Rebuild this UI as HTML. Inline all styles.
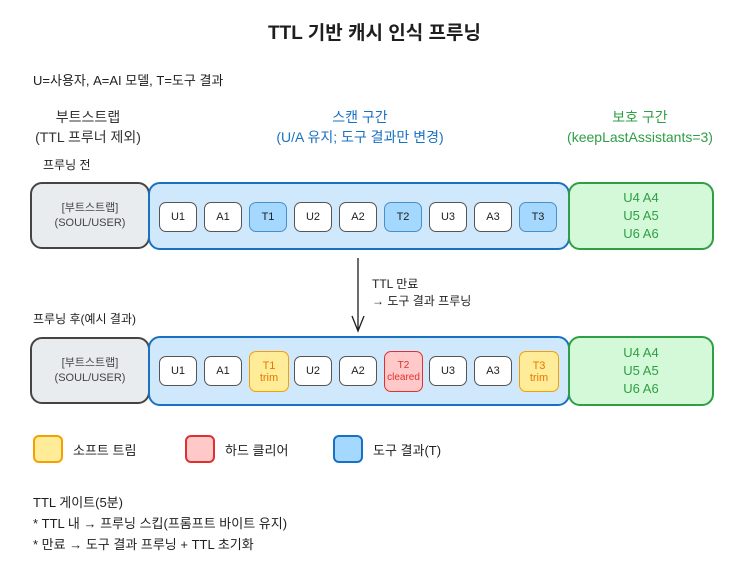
<!DOCTYPE html>
<html><head><meta charset="utf-8"><style>
body{margin:0;width:749px;height:583px;background:#fff;position:relative;overflow:hidden;font-family:"Liberation Sans","Noto Sans CJK KR",sans-serif;color:#1e1e1e}
.t{position:absolute;white-space:nowrap}
.b{position:absolute;box-sizing:border-box;border-radius:12px;border:2px solid}
.s{position:absolute;box-sizing:border-box;border-radius:7px;border:1.5px solid #555;background:#fff;font-size:11px;text-align:center;display:flex;flex-direction:column;justify-content:center;line-height:12px}
.c{text-align:center}
</style></head><body>
<div class="t" style="left:0;width:749px;top:18px;text-align:center;font-size:19px;font-weight:bold">TTL 기반 캐시 인식 프루닝</div>
<div class="t" style="left:33px;top:70px;font-size:13px">U=사용자, A=AI 모델, T=도구 결과</div>
<div class="t c" style="left:10px;width:156px;top:107px;font-size:14px;line-height:20px;color:#333">부트스트랩<br>(TTL 프루너 제외)</div>
<div class="t c" style="left:230px;width:260px;top:107px;font-size:14px;line-height:20px;color:#1971c2">스캔 구간<br>(U/A 유지; 도구 결과만 변경)</div>
<div class="t c" style="left:530px;width:220px;top:107px;font-size:14px;line-height:20px;color:#2f9e44">보호 구간<br>(keepLastAssistants=3)</div>
<div class="t" style="left:43px;top:156px;font-size:12px">프루닝 전</div>
<div class="t" style="left:33px;top:310px;font-size:12px">프루닝 후(예시 결과)</div>

<div class="b" style="left:30px;top:182px;width:120px;height:67px;border-color:#444;background:#e9ecef"></div>
<div class="t c" style="left:30px;width:120px;top:201px;font-size:11px;line-height:15px;color:#444">[부트스트랩]<br>(SOUL/USER)</div>
<div class="b" style="left:148px;top:182px;width:422px;height:68px;border-color:#1971c2;background:#d0e8fb"></div>
<div class="b" style="left:568px;top:182px;width:146px;height:68px;border-color:#2f9e44;background:#d3f9d8"></div>
<div class="t c" style="left:568px;width:146px;top:189px;font-size:13px;line-height:18px;color:#2f9e44">U4 A4<br>U5 A5<br>U6 A6</div>

<div class="s" style="left:159px;top:202px;width:38px;height:30px">U1</div>
<div class="s" style="left:204px;top:202px;width:38px;height:30px">A1</div>
<div class="s" style="left:249px;top:202px;width:38px;height:30px;background:#a5d8ff;border-color:#4a90c8">T1</div>
<div class="s" style="left:294px;top:202px;width:38px;height:30px">U2</div>
<div class="s" style="left:339px;top:202px;width:38px;height:30px">A2</div>
<div class="s" style="left:384px;top:202px;width:38px;height:30px;background:#a5d8ff;border-color:#4a90c8">T2</div>
<div class="s" style="left:429px;top:202px;width:38px;height:30px">U3</div>
<div class="s" style="left:474px;top:202px;width:38px;height:30px">A3</div>
<div class="s" style="left:519px;top:202px;width:38px;height:30px;background:#a5d8ff;border-color:#4a90c8">T3</div>

<svg style="position:absolute;left:0;top:0" width="749" height="583"><path d="M358 258 L358 330 M352 316 L358 331 L364 316" stroke="#1e1e1e" stroke-width="1.3" fill="none"/></svg>
<div class="t" style="left:372px;top:276px;font-size:12px;line-height:17px">TTL 만료<br>→ 도구 결과 프루닝</div>

<div class="b" style="left:30px;top:337px;width:120px;height:67px;border-color:#444;background:#e9ecef"></div>
<div class="t c" style="left:30px;width:120px;top:356px;font-size:11px;line-height:15px;color:#444">[부트스트랩]<br>(SOUL/USER)</div>
<div class="b" style="left:148px;top:336px;width:422px;height:70px;border-color:#1971c2;background:#d0e8fb"></div>
<div class="b" style="left:568px;top:336px;width:146px;height:70px;border-color:#2f9e44;background:#d3f9d8"></div>
<div class="t c" style="left:568px;width:146px;top:344px;font-size:13px;line-height:18px;color:#2f9e44">U4 A4<br>U5 A5<br>U6 A6</div>

<div class="s" style="left:159px;top:356px;width:38px;height:30px">U1</div>
<div class="s" style="left:204px;top:356px;width:38px;height:30px">A1</div>
<div class="s" style="left:249px;top:351px;width:40px;height:41px;background:#ffec99;border-color:#f59f00;color:#e67700">T1<br>trim</div>
<div class="s" style="left:294px;top:356px;width:38px;height:30px">U2</div>
<div class="s" style="left:339px;top:356px;width:38px;height:30px">A2</div>
<div class="s" style="left:384px;top:351px;width:39px;height:41px;background:#ffc9c9;border-color:#e03131;color:#e03131;font-size:10px">T2<br>cleared</div>
<div class="s" style="left:429px;top:356px;width:38px;height:30px">U3</div>
<div class="s" style="left:474px;top:356px;width:38px;height:30px">A3</div>
<div class="s" style="left:519px;top:351px;width:40px;height:41px;background:#ffec99;border-color:#f59f00;color:#e67700">T3<br>trim</div>

<div class="b" style="left:33px;top:435px;width:30px;height:28px;border-radius:6px;border-color:#f59f00;background:#ffec99"></div>
<div class="t" style="left:73px;top:440px;font-size:13px">소프트 트림</div>
<div class="b" style="left:185px;top:435px;width:30px;height:28px;border-radius:6px;border-color:#e03131;background:#ffc9c9"></div>
<div class="t" style="left:225px;top:440px;font-size:13px">하드 클리어</div>
<div class="b" style="left:333px;top:435px;width:30px;height:28px;border-radius:6px;border-color:#1971c2;background:#a5d8ff"></div>
<div class="t" style="left:373px;top:440px;font-size:13px">도구 결과(T)</div>

<div class="t" style="left:33px;top:492px;font-size:13px;line-height:21px">TTL 게이트(5분)<br>* TTL 내 → 프루닝 스킵(프롬프트 바이트 유지)<br>* 만료 → 도구 결과 프루닝 + TTL 초기화</div>
</body></html>
